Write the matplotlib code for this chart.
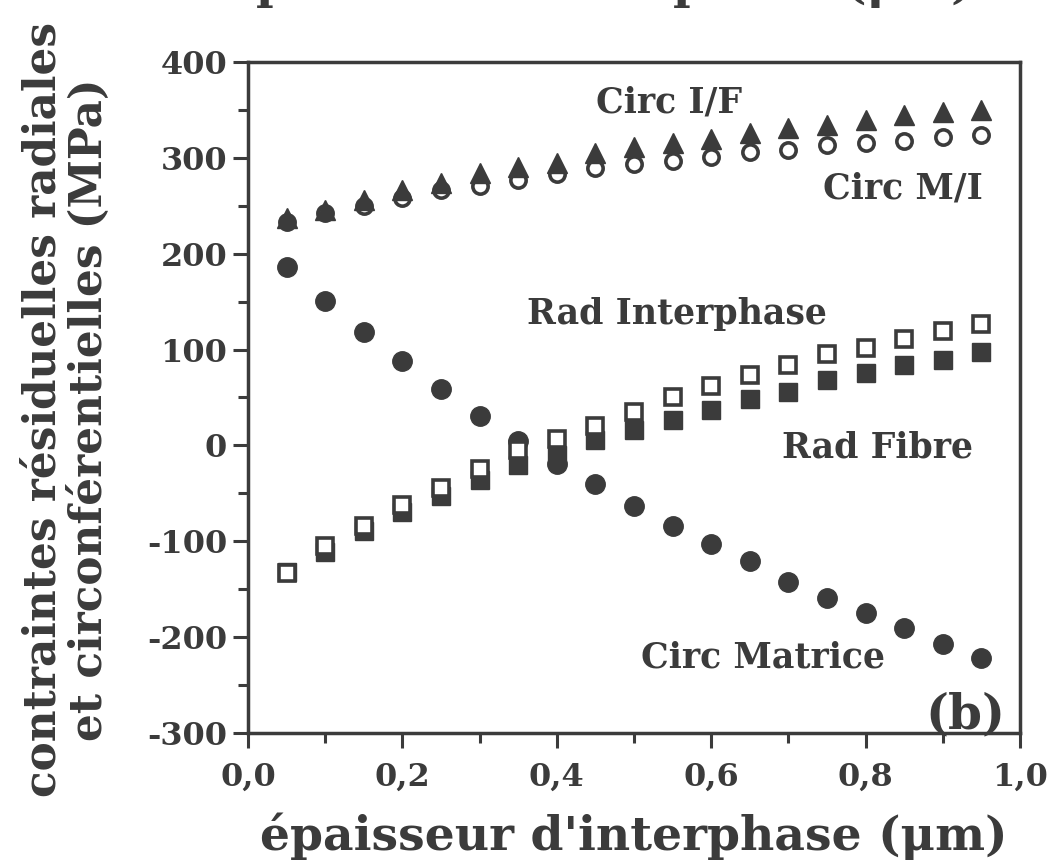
import numpy as np
import matplotlib
matplotlib.use('Agg')
import matplotlib.pyplot as plt
from matplotlib.ticker import MultipleLocator

# epaisseur d'interphase (um)
epaisseur = [0.05, 0.10, 0.15, 0.20, 0.25, 0.30, 0.35, 0.40, 0.45, 0.50,
             0.55, 0.60, 0.65, 0.70, 0.75, 0.80, 0.85, 0.90, 0.95]

# contraintes (MPa)
circIF = [237, 246, 256, 266, 274, 284, 290, 295, 305, 311,
          315, 320, 326, 331, 334, 339, 345, 348, 350]
circMI = [233, 242, 250, 258, 266, 271, 277, 283, 289, 294,
          297, 301, 306, 308, 313, 316, 318, 322, 324]
circMatrice = [186, 151, 118, 88, 59, 31, 5, -19, -40, -63,
               -84, -103, -121, -142, -159, -175, -190, -207, -222]
radInterphase = [-133, -105, -84, -62, -44, -25, -5, 7, 20, 35,
                 50, 62, 73, 84, 95, 102, 111, 119, 127]
radFibre = [-132, -111, -89, -69, -53, -36, -20, -10, 6, 16,
            26, 37, 48, 56, 68, 76, 84, 89, 97]

xticks = [0.0, 0.2, 0.4, 0.6, 0.8, 1.0]
xticklabels = ['0,0', '0,2', '0,4', '0,6', '0,8', '1,0']
yticks = [-300, -200, -100, 0, 100, 200, 300, 400]
yticklabels = ['-300', '-200', '-100', '0', '100', '200', '300', '400']

ink = '#3b3b3b'
plt.rcParams['font.family'] = ['DejaVu Serif']
plt.rcParams['font.weight'] = 'bold'
plt.rcParams['axes.labelweight'] = 'bold'

fig = plt.figure(figsize=(10.53, 8.67), dpi=100)
ax = fig.add_axes([0.2355, 0.1546, 0.7332, 0.7739])

ax.plot(epaisseur, circMI, 'o', ms=11, mfc='white', mec=ink, mew=2.6, ls='none')
ax.plot(epaisseur, circIF, '^', ms=15, color=ink, ls='none')
ax.plot(epaisseur, circMatrice, 'o', ms=14, color=ink, ls='none')
ax.plot(epaisseur, radFibre, 's', ms=13, color=ink, ls='none')
ax.plot(epaisseur, radInterphase, 's', ms=12, mfc='white', mec=ink, mew=2.6, ls='none')

tsize = 25
ax.text(0.545, 358, 'Circ I/F', ha='center', va='center', fontsize=tsize, color=ink)
ax.text(0.848, 268, 'Circ M/I', ha='center', va='center', fontsize=tsize, color=ink)
ax.text(0.556, 137, 'Rad Interphase', ha='center', va='center', fontsize=tsize, color=ink)
ax.text(0.816, -2, 'Rad Fibre', ha='center', va='center', fontsize=tsize, color=ink)
ax.text(0.667, -221, 'Circ Matrice', ha='center', va='center', fontsize=tsize, color=ink)
ax.text(0.929, -281, '(b)', ha='center', va='center', fontsize=35, color=ink)

ax.set_xlim(0, 1)
ax.set_ylim(-300, 400)
ax.set_xticks(xticks)
ax.set_xticklabels(xticklabels)
ax.set_yticks(yticks)
ax.set_yticklabels(yticklabels)
ax.xaxis.set_minor_locator(MultipleLocator(0.1))
ax.yaxis.set_minor_locator(MultipleLocator(50))
ax.tick_params(which='major', direction='out', length=11, width=2.2, color=ink,
               labelsize=23, labelcolor=ink, pad=4)
ax.tick_params(axis='x', which='major', pad=10)
ax.tick_params(which='minor', direction='out', length=7, width=2.2, color=ink)
for s in ax.spines.values():
    s.set_linewidth(2.5)
    s.set_color(ink)

ax.set_xlabel("épaisseur d'interphase (μm)", fontsize=34, color=ink, labelpad=14)
ax.set_ylabel('contraintes résiduelles radiales\net circonférentielles (MPa)',
              fontsize=31.5, color=ink, linespacing=1.12)
ax.yaxis.set_label_coords(-0.177, 0.482)

# bas du titre de la figure precedente, coupe par le bord
fig.text(0.57, 1.002, "épaisseur d'interphase (μm)", ha='center', va='baseline',
         fontsize=34, color=ink, fontweight='bold')

fig.savefig('out.png', dpi=100)
